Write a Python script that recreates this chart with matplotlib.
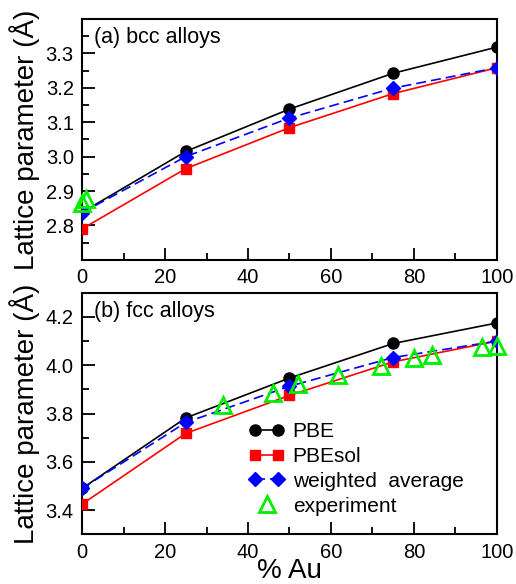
import matplotlib
matplotlib.use("Agg")
import matplotlib.pyplot as plt
from matplotlib.ticker import MultipleLocator
from matplotlib.legend_handler import HandlerLine2D

plt.rcParams['font.family'] = ['Liberation Sans', 'DejaVu Sans']

# bcc alloys
x_calc = [0, 25, 50, 75, 100]
bcc_pbe = [2.838, 3.015, 3.138, 3.242, 3.318]
bcc_pbesol = [2.790, 2.965, 3.084, 3.183, 3.258]
bcc_wavg = [2.837, 3.000, 3.112, 3.199, 3.258]
bcc_exp_x = [0, 1]
bcc_exp_y = [2.866, 2.877]
bcc_yticks = [2.8, 2.9, 3.0, 3.1, 3.2, 3.3]

# fcc alloys
fcc_pbe = [3.490, 3.782, 3.947, 4.090, 4.175]
fcc_pbesol = [3.425, 3.718, 3.875, 4.014, 4.100]
fcc_wavg = [3.490, 3.763, 3.913, 4.032, 4.100]
fcc_exp_x = [34.0, 46.1, 52.0, 61.8, 72.0, 80.1, 84.3, 96.5, 100]
fcc_exp_y = [3.834, 3.887, 3.924, 3.959, 3.997, 4.028, 4.041, 4.076, 4.080]
fcc_yticks = [3.4, 3.6, 3.8, 4.0, 4.2]


def draw(ax, pbe, pbesol, wavg, ex, ey):
    l1, = ax.plot(x_calc, pbe, '-o', color='black', lw=1.2, ms=8, zorder=3)
    l2, = ax.plot(x_calc, pbesol, '-s', color='red', lw=1.2, ms=7, zorder=3)
    l3, = ax.plot(x_calc, wavg, '--D', color='blue', lw=1.2, ms=7,
                  dashes=(6, 3), zorder=4)
    l4, = ax.plot(ex, ey, '^', mfc='none', mec='#00ee00', mew=2, ms=11,
                  ls='none', zorder=5, clip_on=False)
    ax.set_xlim(0, 100)
    ax.xaxis.set_major_locator(MultipleLocator(20))
    ax.xaxis.set_minor_locator(MultipleLocator(10))
    ax.tick_params(which='both', direction='in', top=False, right=False,
                   labelsize=14.5, width=1.3, pad=6)
    ax.tick_params(which='major', length=9)
    ax.tick_params(which='minor', length=5)
    for s in ax.spines.values():
        s.set_linewidth(1.5)
    ax.set_ylabel('Lattice parameter (Å)', fontsize=20, labelpad=4)
    return l1, l2, l3, l4


fig = plt.figure(figsize=(5.16, 5.84), dpi=100)
ax1 = fig.add_axes([0.159, 0.555, 0.804, 0.4127])
ax2 = fig.add_axes([0.159, 0.085, 0.804, 0.4137])

draw(ax1, bcc_pbe, bcc_pbesol, bcc_wavg, bcc_exp_x, bcc_exp_y)
ax1.set_ylim(2.7, 3.4)
ax1.set_yticks(bcc_yticks, [f'{v:.1f}' for v in bcc_yticks])
ax1.yaxis.set_minor_locator(MultipleLocator(0.05))
ax1.text(0.03, 0.965, '(a) bcc alloys', transform=ax1.transAxes,
         fontsize=15.5, va='top', ha='left')

h = draw(ax2, fcc_pbe, fcc_pbesol, fcc_wavg, fcc_exp_x, fcc_exp_y)
ax2.set_ylim(3.3, 4.3)
ax2.set_yticks(fcc_yticks, [f'{v:.1f}' for v in fcc_yticks])
ax2.yaxis.set_minor_locator(MultipleLocator(0.1))
ax2.text(0.03, 0.965, '(b) fcc alloys', transform=ax2.transAxes,
         fontsize=15.5, va='top', ha='left')
ax2.set_xlabel('% Au', fontsize=20, labelpad=-3)
ax2.legend(h, ['PBE', 'PBEsol', 'weighted  average', 'experiment'],
           loc='lower left', bbox_to_anchor=(0.357, 0.0), frameon=False,
           fontsize=15, numpoints=2, handlelength=1.7, handletextpad=0.4,
           labelspacing=0.28,
           handler_map={h[3]: HandlerLine2D(numpoints=1)})

fig.savefig('out.png', dpi=100)
